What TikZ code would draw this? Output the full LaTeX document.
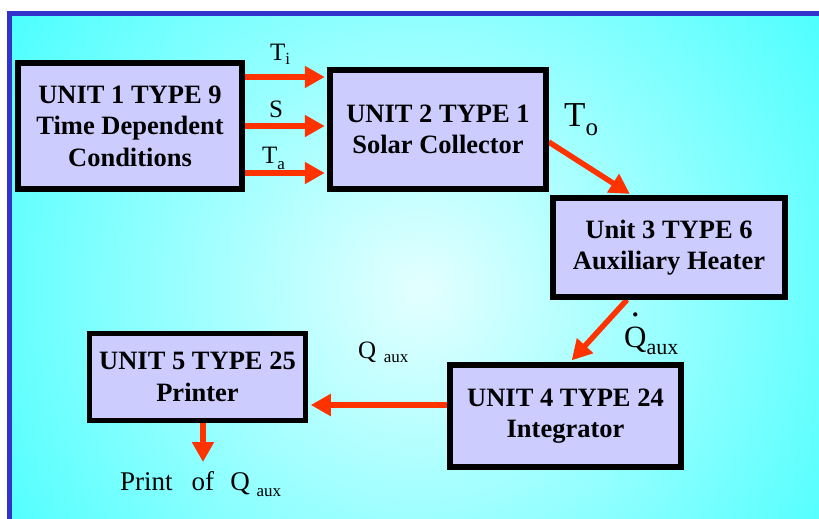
\documentclass[tikz,border=0pt]{standalone}
\usepackage{fontspec}
\setmainfont{Liberation Serif}
\usetikzlibrary{arrows.meta}
\definecolor{bgcyan}{RGB}{0,255,255}
\definecolor{bglight}{RGB}{228,255,255}
\definecolor{framebl}{RGB}{51,51,204}
\definecolor{boxfill}{RGB}{204,204,255}
\definecolor{arrred}{RGB}{255,51,0}
\newcommand{\lowsub}[3]{\raisebox{-#1}{\fontsize{#2}{#2}\selectfont #3}}
\newcommand{\fsz}[1]{\fontsize{#1}{#1}\selectfont}
\begin{document}
\begin{tikzpicture}[x=1pt,y=-1pt,
  unitbox/.style={draw=black,line width=5.5pt,fill=boxfill,align=center,inner sep=0pt,
    font=\fontsize{26.5}{31.5}\selectfont\bfseries},
  ghost/.style={unitbox,draw=none,fill=none,text opacity=0},
  flow/.style={draw=arrred,line width=5.5pt,-{Triangle[length=20pt,width=21pt]},shorten >=2.5pt},
  lbl/.style={inner sep=0pt,anchor=base west}]
\clip (0,0) rectangle (819,519);
\fill[white] (0,0) rectangle (819,519);
\begin{scope}
  \clip (9.5,13.5) rectangle (830,530);
  \shade[inner color=bglight, outer color=bgcyan] (420,290) circle (740pt);
\end{scope}
\draw[framebl,line width=5pt] (830,13.5) -- (9.5,13.5) -- (9.5,530);

% anchor nodes (invisible) for connectors
\node[ghost,minimum width=224pt,minimum height=126pt] (u1) at (130,126) {UNIT 1 TYPE 9\\Time Dependent\\Conditions};
\node[ghost,minimum width=216pt,minimum height=119pt] (u2) at (438,129.5) {UNIT 2 TYPE 1\\Solar Collector};
\node[ghost,minimum width=232pt,minimum height=99pt] (u3) at (669,247.5) {Unit 3 TYPE 6\\Auxiliary Heater};
\node[ghost,minimum width=231pt,minimum height=102pt] (u4) at (565.5,416) {UNIT 4 TYPE 24\\Integrator};
\node[ghost,minimum width=216pt,minimum height=87pt] (u5) at (197.5,377) {UNIT 5 TYPE 25\\Printer};
\coordinate (pend) at (203,462);

% connectors
\draw[flow] (u1.east |- 0,77) -- (u2.west |- 0,77);
\draw[flow] (u1.east |- 0,126) -- (u2.west |- 0,126);
\draw[flow] (u1.east |- 0,173) -- (u2.west |- 0,173);
\draw[flow] (u2.east |- 0,142) -- (u3.north -| 632,0);
\draw[flow] (u3.south -| 627,0) -- (u4.north -| 570,0);
\draw[flow] (u4.west |- 0,405) -- (u5.east |- 0,405);
\draw[flow,shorten >=0pt] (u5.south -| 203,0) -- (pend);

% visible boxes
\node[unitbox,minimum width=224pt,minimum height=126pt] (b1) at (u1) {UNIT 1 TYPE 9\\Time Dependent\\Conditions};
\node[unitbox,minimum width=216pt,minimum height=119pt] (b2) at (u2) {UNIT 2 TYPE 1\\Solar Collector};
\node[unitbox,minimum width=232pt,minimum height=99pt] (b3) at (u3) {Unit 3 TYPE 6\\Auxiliary Heater};
\node[unitbox,minimum width=231pt,minimum height=102pt] (b4) at (u4) {UNIT 4 TYPE 24\\Integrator};
\node[unitbox,minimum width=216pt,minimum height=87pt] (b5) at (u5) {UNIT 5 TYPE 25\\Printer};

% labels
\node[lbl] (lti) at (270,60) {\fsz{25}T\lowsub{5pt}{17}{i}};
\node[lbl] (ls) at (269,117) {\fsz{25}S};
\node[lbl] (lta) at (262,163) {\fsz{25}T\lowsub{6pt}{17}{a}};
\node[lbl] (lto) at (564,126) {\fsz{35}T\lowsub{9pt}{25}{o}};
\node[lbl] (lqd) at (624,347) {\fsz{31}\ooalign{Q\cr\hidewidth\smash{\raisebox{1.0em}{\fsz{36}.}}\hidewidth\cr}\lowsub{7pt}{22}{aux}};
\node[lbl] (lqa) at (358,358) {\fsz{25}Q\hspace{0.3em}\lowsub{4pt}{17}{aux}};
\node[lbl] (lpr) at (120,490) {\fsz{27}Print\hspace{0.7em}of\hspace{0.6em}Q\hspace{0.25em}\lowsub{6pt}{17}{aux}};
\end{tikzpicture}
\end{document}
